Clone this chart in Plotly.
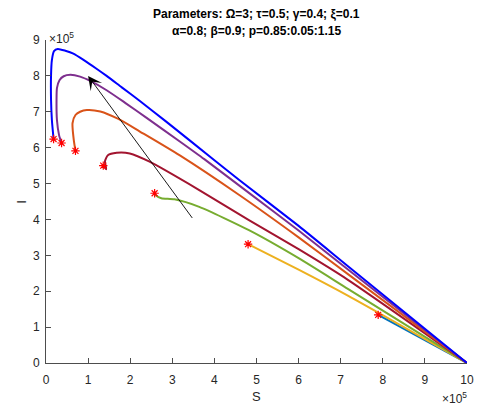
import plotly.graph_objects as go

# Trajectories (S in units of 1e5, I in units of 1e5), one per p value
p_values = [0.85, 0.90, 0.95, 1.00, 1.05, 1.10, 1.15]

S_lightblue = [10.0, 7.89]
I_lightblue = [0.0, 1.34]

S_yellow = [10.0, 7.18, 6.0, 4.80]
I_yellow = [0.0, 1.87, 2.60, 3.31]

S_green = [10.0, 7.18, 6.0, 4.82, 3.64, 3.05, 2.74, 2.62, 2.58]
I_green = [0.0, 2.06, 2.92, 3.70, 4.35, 4.56, 4.59, 4.66, 4.73]

S_darkred = [10.0, 7.18, 6.0, 4.82, 3.64, 2.46, 1.99, 1.68, 1.47, 1.40, 1.43, 1.36]
I_darkred = [0.0, 2.31, 3.17, 3.98, 4.82, 5.61, 5.84, 5.86, 5.79, 5.62, 5.40, 5.50]

S_orange = [10.0, 7.18, 6.0, 4.59, 3.17, 2.23, 1.72, 1.29, 0.97, 0.81, 0.70, 0.63, 0.66, 0.70]
I_orange = [0.0, 2.47, 3.50, 4.68, 5.79, 6.45, 6.80, 7.01, 7.05, 7.00, 6.91, 6.68, 6.21, 5.91]

S_purple = [10.0, 7.18, 6.0, 4.82, 3.76, 3.17, 2.39, 1.88, 1.44, 1.05, 0.81, 0.58, 0.42, 0.32, 0.26, 0.25, 0.26, 0.31, 0.37]
I_purple = [0.0, 2.60, 3.69, 4.74, 5.68, 6.18, 6.83, 7.25, 7.60, 7.86, 7.98, 8.03, 7.99, 7.88, 7.66, 7.33, 6.77, 6.35, 6.13]

S_blue = [10.0, 7.18, 6.0, 4.59, 4.0, 2.84, 2.23, 1.8, 1.44, 1.2, 0.9, 0.65, 0.46, 0.28, 0.19, 0.14, 0.12, 0.12, 0.14, 0.18]
I_blue = [0.0, 2.69, 3.82, 5.10, 5.65, 6.74, 7.30, 7.68, 8.00, 8.20, 8.44, 8.62, 8.70, 8.75, 8.69, 8.44, 8.02, 7.33, 6.77, 6.24]

curves = [
    (S_lightblue, I_lightblue, "#0072BD"),
    (S_yellow, I_yellow, "#EDB120"),
    (S_green, I_green, "#77AC30"),
    (S_darkred, I_darkred, "#A2142F"),
    (S_orange, I_orange, "#D95319"),
    (S_purple, I_purple, "#7E2F8E"),
    (S_blue, I_blue, "#0000FF"),
]

# Arrow (tail -> head), data units
arrow_tail = (3.5, 4.0)
arrow_head = (1.0, 8.0)

x_ticks = list(range(0, 11))
y_ticks = list(range(0, 10))

FONT = "Liberation Sans, Arial, Helvetica, sans-serif"
AXC = "#4d4d4d"
TXT = "#262626"

fig = go.Figure()
for S, I, c in curves:
    fig.add_trace(go.Scatter(x=S, y=I, mode="lines", line=dict(color=c, width=2, shape="spline", smoothing=0.6),
                             showlegend=False, hoverinfo="skip"))
for S, I, c in curves:
    fig.add_trace(go.Scatter(x=[S[-1]], y=[I[-1]], mode="markers",
                             marker=dict(symbol="asterisk", size=7, color="red",
                                         line=dict(color="red", width=1.2)),
                             showlegend=False, hoverinfo="skip"))

fig.add_annotation(x=arrow_head[0], y=arrow_head[1], ax=arrow_tail[0], ay=arrow_tail[1],
                   xref="x", yref="y", axref="x", ayref="y", showarrow=True,
                   arrowhead=3, arrowsize=2.6, arrowwidth=0.9, arrowcolor="black", text="")

# Title lines
fig.add_annotation(xref="paper", yref="paper", x=0.5, y=1.0805, yanchor="middle", showarrow=False,
                   text="<b>Parameters: Ω=3; τ=0.5; γ=0.4; ξ=0.1</b>",
                   font=dict(family=FONT, size=12, color="black"))
fig.add_annotation(xref="paper", yref="paper", x=0.5, y=1.0279, yanchor="middle", showarrow=False,
                   text="<b>α=0.8; β=0.9; p=0.85:0.05:1.15</b>",
                   font=dict(family=FONT, size=12, color="black"))
# Axis labels
fig.add_annotation(xref="paper", yref="paper", x=0.5, y=-34 / 323, yanchor="middle", showarrow=False,
                   text="S", font=dict(family=FONT, size=13, color=TXT))
fig.add_annotation(xref="paper", yref="paper", x=-25.5 / 424, y=(363 - 202) / 323, xanchor="center",
                   yanchor="middle", showarrow=False, textangle=-90,
                   text="I", font=dict(family=FONT, size=13, color=TXT))
# Exponent labels
fig.add_annotation(xref="paper", yref="paper", x=0, y=1.0, xanchor="left", yanchor="bottom", showarrow=False,
                   text="×10<sup>5</sup>", font=dict(family=FONT, size=12, color=TXT), xshift=1, yshift=-8)
fig.add_annotation(xref="paper", yref="paper", x=1.0, y=0, xanchor="right", yanchor="top", showarrow=False,
                   text="×10<sup>5</sup>", font=dict(family=FONT, size=12, color=TXT), xshift=2, yshift=-25)

fig.update_xaxes(range=[0, 10], tickvals=x_ticks, ticktext=[str(v) for v in x_ticks],
                 showline=True, linecolor=AXC, linewidth=1, ticks="inside", ticklen=5, tickcolor=AXC,
                 ticklabelstandoff=6,
                 showgrid=False, zeroline=False, tickfont=dict(family=FONT, size=12, color=TXT))
fig.update_yaxes(range=[0, 9], tickvals=y_ticks, ticktext=[str(v) for v in y_ticks],
                 showline=True, linecolor=AXC, linewidth=1, ticks="inside", ticklen=5, tickcolor=AXC,
                 ticklabelstandoff=3,
                 showgrid=False, zeroline=False, tickfont=dict(family=FONT, size=12, color=TXT))

fig.update_layout(width=486, height=412, margin=dict(l=45.5, r=16.5, t=40, b=49),
                  plot_bgcolor="white", paper_bgcolor="white", font=dict(family=FONT))
fig.write_html("out.html")
